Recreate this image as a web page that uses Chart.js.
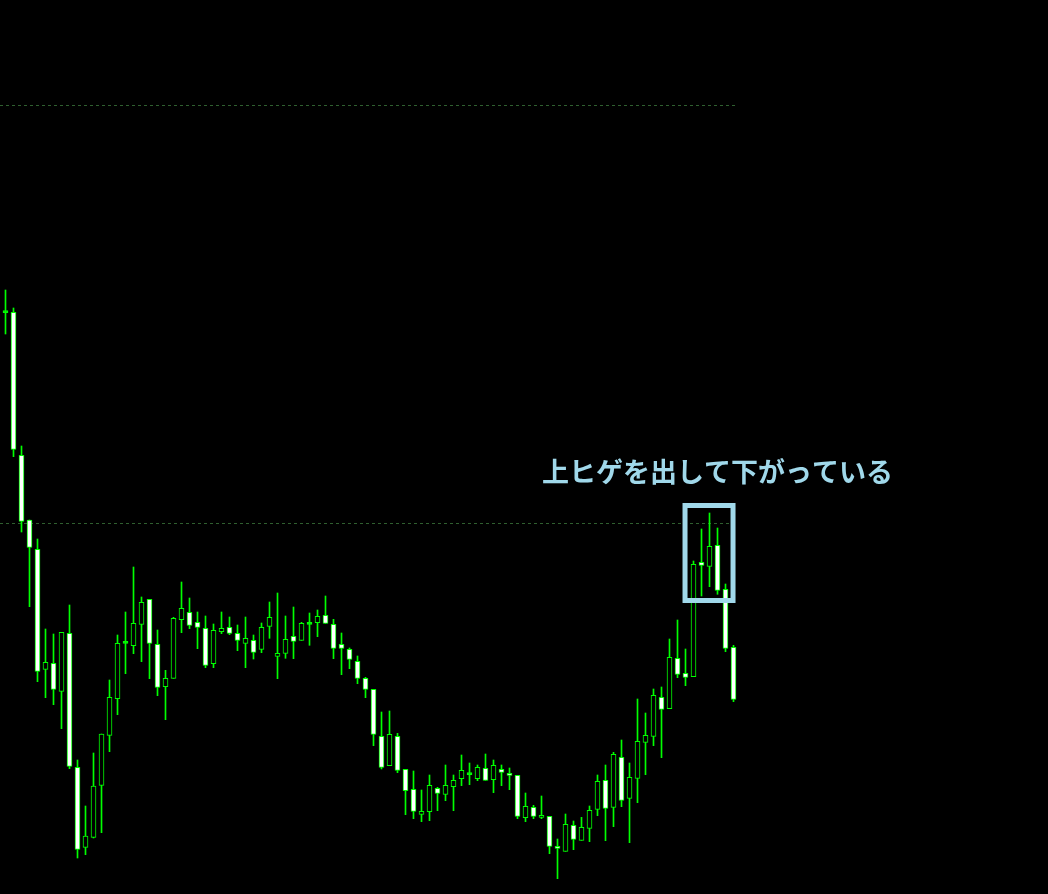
<!DOCTYPE html>
<html>
<head>
<meta charset="utf-8">
<script src="https://cdn.jsdelivr.net/npm/chart.js@4"></script>
<style>
  html, body { margin: 0; padding: 0; background: #000; }
  #chart { display: block; }
</style>
</head>
<body>
<canvas id="chart" width="1048" height="894"></canvas>
<script>
// OHLC per bar (price points)
const opens = [
  581.3, 581.7, 438.7, 374, 344.7, 224.7, 230.7, 202.7, 260.7, 126.7,
  46.7, 56.7, 108.7, 158.7, 195.3, 250.7, 248.3, 269.7, 294.7, 249.7,
  207.3, 215.7, 274.3, 281.7, 271.7, 265.7, 230.3, 262.3, 266.7, 260.7,
  250.7, 253.7, 244.7, 267.7, 237.7, 240.7, 257.7, 253.7, 269.7, 271.3,
  278.7, 269.7, 249.7, 244.7, 232.7, 215.7, 204.7, 157.7, 128.3, 157.7,
  124.7, 104.7, 79.7, 82.3, 105.7, 99.7, 107.3, 115.3, 119.3, 115.3,
  125.7, 114.3, 124.7, 120.7, 118.7, 76.3, 86.7, 76.7, 77.7, 47.7,
  42.7, 68.7, 53.7, 65.7, 84.7, 113.7, 86.7, 136.7, 95.7, 115.7,
  151.7, 157.7, 196.7, 185.3, 235.7, 220.7, 217.3, 331.7, 327.7, 348.7,
  304.7, 246.7
];
const highs = [
  604, 586, 448, 374, 355, 265, 260, 261.7, 289, 134,
  88, 141, 160, 214, 259, 282, 327, 297, 294.7, 264,
  223.7, 276.7, 312, 296, 282, 278, 270, 282, 277, 269,
  277, 259, 271, 292, 301, 278, 287, 271.7, 281, 284,
  298, 274.7, 261, 246, 238, 216.7, 204.7, 182, 183, 160.7,
  124.7, 123, 104, 119, 106.7, 129, 119, 139, 131, 129,
  140, 134, 129, 126, 118.7, 101, 88.7, 98, 77.7, 55,
  80, 73, 76.7, 88, 119, 129, 141.7, 154, 131, 195,
  181, 205, 207, 255, 274, 245, 333, 365, 381, 366,
  310, 248.7
];
const lows = [
  560, 437.3, 362, 287.3, 212.3, 196.3, 189.3, 165.3, 125.3, 36,
  39.3, 56, 61.3, 142.3, 179.3, 220.3, 240.3, 232.3, 215.3, 198.3,
  174.3, 215.7, 261.3, 265.3, 245.3, 226.3, 226.3, 260.3, 259.3, 243.3,
  226.3, 235, 241.3, 255.7, 215.3, 235.7, 235.3, 253.7, 248.7, 257.3,
  270.7, 235.3, 219.3, 225.3, 210.3, 196.3, 148.3, 125, 128.3, 121.3,
  79.3, 75.3, 72.3, 73.3, 83.3, 93.3, 83.3, 108.3, 109.3, 113.3,
  113.7, 101.3, 108.3, 104.3, 75.3, 72.3, 75.3, 75.3, 40.3, 15.3,
  42.7, 44.3, 53.7, 52.3, 78.3, 53.3, 67.3, 87.3, 51.3, 91.3,
  119.3, 148.3, 136.3, 185.3, 216.3, 208.3, 217.3, 298, 307.3, 299.7,
  242.3, 192.3
];
const closes = [
  581.3, 444.7, 372.7, 346.7, 222.7, 231.7, 204.7, 261.7, 127.7, 44.7,
  58, 108, 160, 196.7, 250.7, 250.7, 270.7, 291.7, 250.7, 206.7,
  215.7, 275.7, 285.7, 268.7, 266.7, 228.7, 263.7, 265.7, 260.7, 253.7,
  255.7, 241.7, 266.7, 276.7, 240.7, 254.7, 252.7, 270.7, 269.7, 277.7,
  270.7, 245.7, 245.7, 234.7, 215.7, 204.7, 159.7, 126.7, 159.7, 123.7,
  103.3, 82.7, 82.7, 108.7, 100.7, 108.7, 113.7, 123.7, 119.3, 126.7,
  113.7, 128.7, 121.7, 118.7, 77.7, 87.7, 77.7, 78.7, 47.7, 45.7,
  69.7, 54.7, 66.7, 83.7, 112.7, 85.7, 139.7, 93.7, 116.7, 152.7,
  158.7, 198.7, 184.7, 236.7, 219.7, 216.7, 329.7, 328.7, 347.7, 303.7,
  245.7, 194.7
];

// dotted horizontal price levels
const levels = [788.5, 370.5];
const levelEndBar = 91.5;

// annotation
const noteText = '上ヒゲを出して下がっている';
const noteBox = { x0: 84.94, x1: 90.94, y0: 293.5, y1: 388.5 };
const notePos = { x: 89.0, y: 422 };

const GREEN = '#00ff00';
const NOTE_COLOR = '#a0d8ea';

const bodies = opens.map((o, i) => ({ x: i, y: [o, closes[i]] }));
const wicks = lows.map((l, i) => ({ x: i, y: [l, highs[i]] }));
const bodyFill = opens.map((o, i) => {
  if (closes[i] > o) return '#000000';
  if (closes[i] < o) return '#ffffff';
  return GREEN;
});

const levelSets = levels.map(v => ({
  type: 'line',
  data: [{ x: -0.6875, y: v }, { x: levelEndBar, y: v }],
  borderColor: '#2f5f2f',
  borderWidth: 1,
  borderDash: [3, 3],
  pointRadius: 0,
  order: 3
}));

const notePlugin = {
  id: 'note',
  afterDatasetsDraw(chart) {
    const { ctx, scales: { x, y } } = chart;
    const left = x.getPixelForValue(noteBox.x0);
    const right = x.getPixelForValue(noteBox.x1);
    const top = y.getPixelForValue(noteBox.y1);
    const bottom = y.getPixelForValue(noteBox.y0);
    ctx.save();
    ctx.strokeStyle = NOTE_COLOR;
    ctx.lineWidth = 5;
    ctx.strokeRect(left, top, right - left, bottom - top);
    ctx.fillStyle = NOTE_COLOR;
    ctx.font = 'bold 27px "Noto Sans CJK JP", sans-serif';
    ctx.textAlign = 'center';
    ctx.textBaseline = 'middle';
    ctx.fillText(noteText, x.getPixelForValue(notePos.x), y.getPixelForValue(notePos.y));
    ctx.restore();
  }
};

new Chart(document.getElementById('chart'), {
  type: 'bar',
  data: {
    datasets: [
      {
        data: bodies,
        backgroundColor: bodyFill,
        borderColor: GREEN,
        borderWidth: 1,
        borderSkipped: false,
        barThickness: 5,
        minBarLength: 2,
        grouped: false,
        order: 0
      },
      {
        data: wicks,
        backgroundColor: GREEN,
        borderWidth: 0,
        barThickness: 1,
        grouped: false,
        order: 1
      },
      ...levelSets
    ]
  },
  options: {
    responsive: false,
    animation: false,
    layout: { padding: 0 },
    plugins: { legend: { display: false }, tooltip: { enabled: false } },
    scales: {
      x: { type: 'linear', display: false, offset: false, min: -0.6875, max: 130.3125 },
      y: { display: false, min: 0, max: 894 }
    }
  },
  plugins: [notePlugin]
});
</script>
</body>
</html>
